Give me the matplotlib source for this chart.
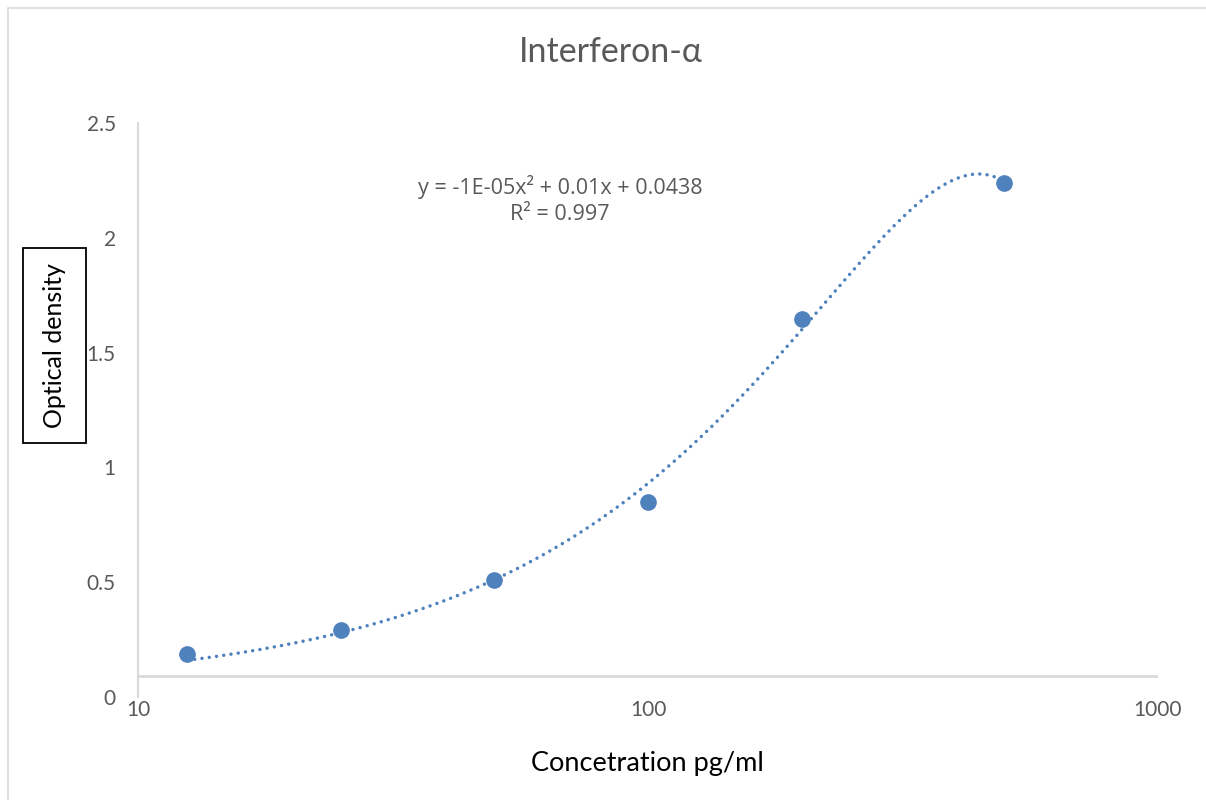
import numpy as np
import matplotlib
matplotlib.use("Agg")
import matplotlib.pyplot as plt
from matplotlib.patches import Rectangle

# data
conc = np.array([12.5, 25, 50, 100, 200, 500])
od = np.array([0.187, 0.291, 0.509, 0.850, 1.648, 2.239])
x_ticks = [10, 100, 1000]
x_ticklabels = ["10", "100", "1000"]
y_ticks = [0, 0.5, 1, 1.5, 2, 2.5]
y_ticklabels = ["0", "0.5", "1", "1.5", "2", "2.5"]

blue = "#4F81BD"
gray_txt = "#595959"
gray_line = "#D9D9D9"

plt.rcParams['font.family'] = ['Lato', 'DejaVu Sans']

fig = plt.figure(figsize=(12.06, 8), dpi=100)
ax = fig.add_axes([138 / 1206, 1 - 697 / 800, (1158 - 138) / 1206, (697 - 123) / 800])

# chart area border
fig.patches.append(Rectangle((8 / 1206, -0.05), 1.2, 1.05 - 8 / 800, transform=fig.transFigure,
                             fill=False, edgecolor=gray_line, linewidth=1.2))

# polynomial trendline (order 2, linear x)
coef = np.polyfit(conc, od, 2)
xs = np.linspace(conc.min(), conc.max(), 600)
ax.plot(xs, np.polyval(coef, xs), color=blue, linewidth=2.5,
        linestyle=(0, (0.01, 2.1)), dash_capstyle='round', zorder=2)

ax.plot(conc, od, 'o', color=blue, markersize=11, zorder=3)

ax.set_xscale('log')
ax.set_xlim(10, 1000)
ax.set_ylim(0, 2.5)
ax.set_xticks(x_ticks)
ax.set_xticklabels(x_ticklabels)
ax.set_xticks([], minor=True)
ax.set_yticks(y_ticks)
ax.set_yticklabels(y_ticklabels)
ax.tick_params(axis='both', length=0, labelsize=15, colors=gray_txt)
ax.tick_params(axis='y', pad=16)
ax.tick_params(axis='x', pad=2)

for s in ['top', 'right', 'bottom']:
    ax.spines[s].set_visible(False)
ax.spines['left'].set_color(gray_line)
ax.spines['left'].set_linewidth(1.5)
# horizontal axis line sits a little above zero in the original
ax.axhline(0.092, color=gray_line, linewidth=2, zorder=1)

fig.text(611 / 1206, 1 - 52 / 800, "Interferon-\u03b1", ha='center', va='center',
         fontsize=24.5, color=gray_txt)
fig.text(647 / 1206, 1 - 763 / 800, "Concetration pg/ml", ha='center', va='center',
         fontsize=19.5, color='black')

# boxed y label
fig.patches.append(Rectangle((23 / 1206, 1 - 443 / 800), 63 / 1206, 195 / 800,
                             transform=fig.transFigure, facecolor='white',
                             edgecolor='black', linewidth=1.3))
fig.text(54 / 1206, 1 - 346 / 800, "Optical density", ha='center', va='center',
         rotation=90, fontsize=18, color='black')

ax.text(560 / 1206, 1 - 200 / 800, "y = -1E-05x\u00b2 + 0.01x + 0.0438\nR\u00b2 = 0.997",
        transform=fig.transFigure, ha='center', va='center', fontsize=15.5,
        family=['Open Sans', 'DejaVu Sans'], color=gray_txt, linespacing=1.3)

fig.savefig("out.png", dpi=100)
